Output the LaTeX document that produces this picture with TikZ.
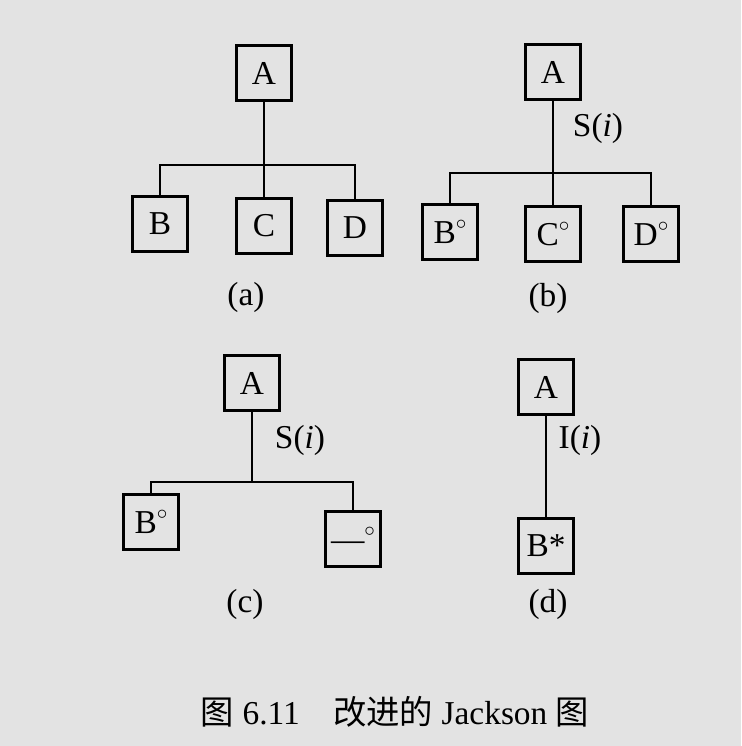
\documentclass[tikz,border=0pt]{standalone}
\usepackage{fontspec}
\setmainfont{Liberation Serif}
\newfontfamily\cjk{Noto Sans CJK SC}
\newcommand{\dg}{\raisebox{0.9ex}{\fontsize{12}{12}\selectfont$\circ$}}
\begin{document}
\begin{tikzpicture}[x=0.02cm,y=-0.02cm,
  bx/.style={draw,line width=1.3pt,minimum size=1.1cm,inner sep=0pt,font=\fontsize{19}{22}\selectfont},
  lbl/.style={font=\fontsize{19}{22}\selectfont},
  ln/.style={line width=1.1pt}]
\fill[gray!22] (0,0) rectangle (741,746);
\useasboundingbox (0,0) rectangle (741,746);
% (a)
\node[bx] (aA) at (264,73) {A};
\node[bx] (aB) at (160,224) {B};
\node[bx] (aC) at (264,226) {C};
\node[bx] (aD) at (355,228) {D};
\coordinate (aH) at (264,165);
\draw[ln] (aA) -- (aC);
\draw[ln] (aB) |- (aH) -| (aD);
\node[lbl] (la) at (246,297) {(a)};
% (b)
\node[bx] (bA) at (553,72) {A};
\node[bx] (bB) at (450,232) {B\dg};
\node[bx] (bC) at (553,234) {C\dg};
\node[bx] (bD) at (651,234) {D\dg};
\coordinate (bH) at (553,173);
\draw[ln] (bA) -- (bC);
\draw[ln] (bB) |- (bH) -| (bD);
\node[lbl] (sb) at (598,128) {S(\textit{i})};
\node[lbl] (lb) at (548,298) {(b)};
% (c)
\node[bx] (cA) at (252,383) {A};
\node[bx] (cB) at (151,522) {B\dg};
\node[bx] (cD) at (353,539) {---\dg};
\coordinate (cH) at (252,482);
\draw[ln] (cA) -- (cH);
\draw[ln] (cB) |- (cH) -| (cD);
\node[lbl] (sc) at (300,440) {S(\textit{i})};
\node[lbl] (lc) at (245,604) {(c)};
% (d)
\node[bx] (dA) at (546,387) {A};
\node[bx] (dB) at (546,546) {B*};
\draw[ln] (dA) -- (dB);
\node[lbl] (sd) at (580,440) {I(\textit{i})};
\node[lbl] (ld) at (548,604) {(d)};
\node[lbl] (cap) at (395,712) {{\cjk 图} 6.11\quad{\cjk 改进的} Jackson {\cjk 图}};
\end{tikzpicture}
\end{document}
